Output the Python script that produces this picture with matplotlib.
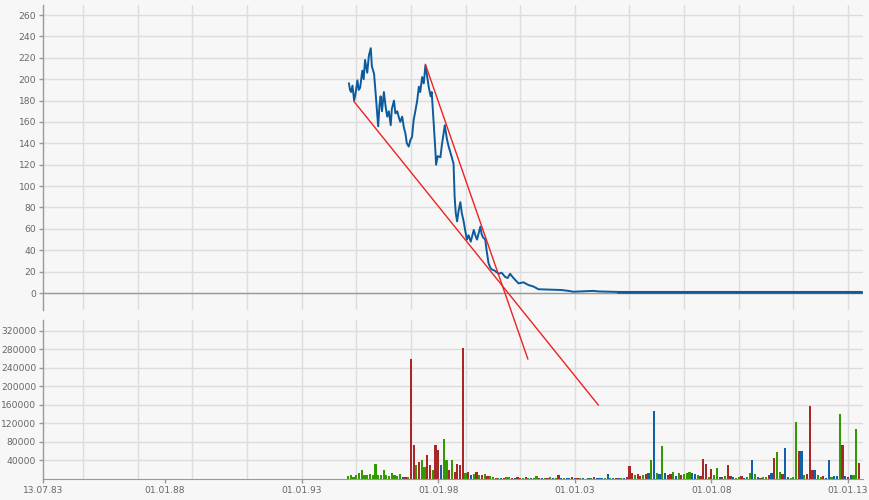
import numpy as np
import matplotlib
matplotlib.use('Agg')
import matplotlib.pyplot as plt

# price (decimal year, value)
price_years = [1994.73, 1994.77, 1994.81, 1994.86, 1994.92, 1994.97, 1995.04, 1995.09, 1995.14, 1995.22,
               1995.27, 1995.32, 1995.40, 1995.46, 1995.53, 1995.57, 1995.65, 1995.71, 1995.80, 1995.85,
               1995.89, 1995.94, 1996.01, 1996.07, 1996.13, 1996.19, 1996.26, 1996.30, 1996.38, 1996.43,
               1996.50, 1996.56, 1996.61, 1996.68, 1996.74, 1996.80, 1996.85, 1996.92, 1996.98, 1997.04,
               1997.10, 1997.16, 1997.23, 1997.29, 1997.34, 1997.41, 1997.47, 1997.53, 1997.58, 1997.65,
               1997.72, 1997.76, 1997.84, 1997.90, 1997.92, 1997.98, 1998.08, 1998.13, 1998.24, 1998.31,
               1998.38, 1998.45, 1998.56, 1998.60, 1998.64, 1998.69, 1998.75, 1998.81, 1998.86, 1998.93,
               1998.99, 1999.05, 1999.11, 1999.19, 1999.30, 1999.37, 1999.42, 1999.48, 1999.54, 1999.59,
               1999.64, 1999.72, 1999.77, 1999.84, 1999.90, 1999.96, 2000.06, 2000.21, 2000.32, 2000.45,
               2000.54, 2000.63, 2000.72, 2000.79, 2000.94, 2001.12, 2001.30, 2001.49, 2001.67, 2002.03,
               2002.51, 2002.76, 2002.95, 2003.68, 2003.86, 2004.59, 2013.46]
price_values = [196, 190, 188, 194, 180, 186, 199, 190, 192, 208,
                200, 218, 206, 222, 229, 212, 205, 186, 156, 176,
                184, 170, 188, 175, 165, 170, 157, 172, 180, 168,
                170, 164, 160, 165, 155, 149, 140, 137, 143, 146,
                162, 170, 180, 193, 188, 202, 196, 213, 205, 193,
                184, 188, 156, 131, 120, 128, 127, 138, 157, 145,
                137, 131, 121, 90, 75, 67, 78, 85, 75, 67,
                58, 50, 54, 48, 59, 53, 50, 56, 62, 55,
                52, 50, 40, 28, 24, 22, 21, 18, 19, 15,
                14, 18, 15, 13, 9, 10, 7.5, 6, 3.5, 3.2,
                2.8, 2.0, 1.2, 2.0, 1.5, 1.0, 1.0]

# trend lines (year, price) start -> end
trend1_x = [1994.92, 2003.86]
trend1_y = [179, -104.8]
trend2_x = [1997.53, 2001.28]
trend2_y = [213.8, -61.7]

# volume in thousands, one bar every 0.1 year from 1994.7
vol_values = [6, 8, 5,
              8, 12, 20, 9, 8, 10, 9, 32, 9, 8,
              20, 9, 7, 12, 8, 7, 10, 4, 5, 4,
              260, 74, 30, 37, 40, 26, 52, 30, 20, 74,
              63, 30, 87, 40, 20, 40, 15, 33, 30, 283,
              12, 15, 8, 10, 15, 9, 8, 10, 7, 6,
              4, 3, 3, 2, 3, 4, 5, 2, 3, 5,
              3, 2, 4, 3, 2, 3, 7, 2, 3, 2,
              3, 4, 2, 2, 9, 2, 3, 2, 3, 5,
              2, 3, 2, 2, 1, 2, 3, 5, 2, 2,
              2, 2, 11, 3, 2, 2, 3, 2, 3, 5,
              28, 12, 8, 10, 6, 8, 10, 12, 41, 147,
              12, 10, 72, 12, 8, 10, 15, 7, 14, 8,
              11, 14, 16, 12, 10, 8, 6, 43, 32, 5,
              22, 8, 24, 5, 4, 6, 30, 7, 4, 3,
              4, 6, 3, 4, 13, 41, 10, 5, 3, 4,
              5, 8, 12, 45, 59, 15, 10, 68, 4, 3,
              5, 124, 61, 61, 8, 10, 158, 20, 20, 8,
              4, 6, 3, 41, 5, 6, 6, 141, 74, 6,
              5, 8, 8, 108, 34]
vol_colors = ("ggg" "gggggggggg" "gggggggbrg" "rrgrggrrgr" "rbggrgrrrr" "grbgrgrgrg"
              "grgbrggrbr" "rgrgbggrbg" "rgbgrbgbbr" "brgbrbgrbb" "bgbgbrbgbr" "rrgrrgrbgb"
              "gbgbrrgbgr" "gggbbgrrrg" "rggbrgrrbg" "grbggbgbrg" "grbrggrbbg" "ggrbgrrrbg"
              "grbbgbbgrb" "rbggr")

x_tick_pos = [1983.53, 1988, 1993, 1998, 2003, 2008, 2013]
x_tick_labels = ['13.07.83', '01.01.88', '01.01.93', '01.01.98', '01.01.03', '01.01.08', '01.01.13']

bg = '#f7f7f7'
grid_c = '#dddddd'
axis_c = '#999999'
text_c = '#666666'
cmap = {'g': '#339900', 'r': '#a82828', 'b': '#1060a8'}
fs = 6.6

fig = plt.figure(figsize=(8.7, 5.0), dpi=100, facecolor=bg)
ax = fig.add_axes([43/870, 1-310/500, 820/870, 305/500], facecolor=bg)
axv = fig.add_axes([43/870, 1-479/500, 820/870, 159/500], facecolor=bg)
ax.set_zorder(2)

xmin, xmax = 1983.53, 2013.55
odd_years = list(range(1985, 2014, 2))

for a in (ax, axv):
    a.set_xlim(xmin, xmax)
    for s in ('top', 'right', 'bottom'):
        a.spines[s].set_visible(False)
    a.spines['left'].set_color(axis_c)
    a.spines['left'].set_linewidth(1)
    for yr in odd_years:
        a.axvline(yr, color=grid_c, lw=1, zorder=0)
    a.tick_params(axis='y', colors=axis_c, labelcolor=text_c, labelsize=fs, length=3, width=1, pad=2)
    a.yaxis.grid(True, color=grid_c, lw=1)
    a.set_axisbelow(True)

# price panel
ax.set_ylim(-15.9, 269.4)
ax.set_yticks(range(0, 261, 20))
ax.set_xticks([])
ax.axhline(0, color=axis_c, lw=1, zorder=1)
ax.plot(price_years, price_values, color='#0d5a9c', lw=1.4, zorder=3)
ax.plot([2004.59, 2013.55], [1.0, 1.0], color='#0d5a9c', lw=1.8, zorder=3)
ax.plot(trend1_x, trend1_y, color='#ee2222', lw=1, clip_on=False, zorder=4)
ax.plot(trend2_x, trend2_y, color='#ee2222', lw=1, clip_on=False, zorder=4)

# volume panel
vol_years = np.round(1994.7 + 0.1 * np.arange(len(vol_values)), 2)
axv.bar(vol_years, np.array(vol_values) * 1000, width=0.08,
        color=[cmap[c] for c in vol_colors], linewidth=0, zorder=2)
axv.set_ylim(0, 343500)
axv.set_yticks(range(40000, 320001, 40000))
axv.spines['bottom'].set_visible(True)
axv.spines['bottom'].set_color(axis_c)
axv.set_xticks(x_tick_pos)
axv.set_xticklabels(x_tick_labels)
axv.tick_params(axis='x', colors=axis_c, labelcolor=text_c, labelsize=fs, length=3, width=1, pad=2)

fig.savefig('out.png', dpi=100, facecolor=bg)
